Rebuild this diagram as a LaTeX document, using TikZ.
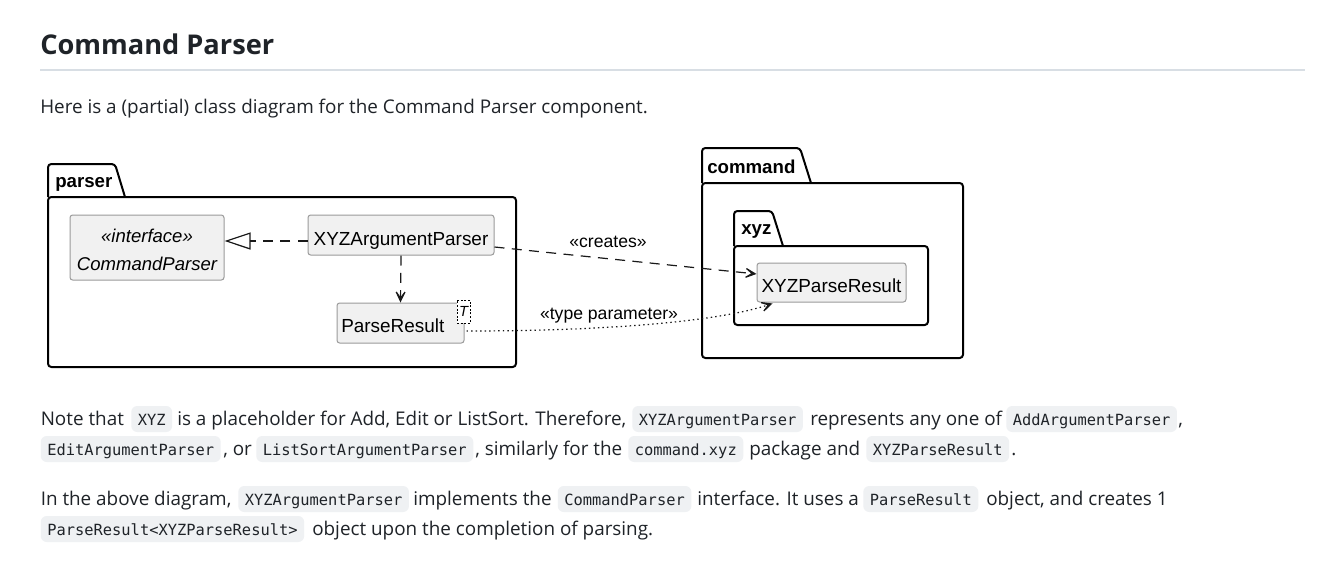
\documentclass[tikz,border=0pt]{standalone}
\usepackage{fontspec}
\setmainfont{Open Sans}
\newfontfamily\diagfont{Liberation Sans}
\newfontfamily\monofont{DejaVu Sans Mono}
\usetikzlibrary{arrows.meta,calc}
\definecolor{fg}{HTML}{1F2328}
\definecolor{codebg}{HTML}{EFF1F3}
\definecolor{rulec}{HTML}{D8DEE4}
\definecolor{clsfill}{HTML}{F1F1F1}
\definecolor{clsdraw}{HTML}{9A9A9A}
\tikzset{
  txt/.style={anchor=base west, inner sep=0pt, text=fg, font=\fontsize{14.15pt}{17pt}\selectfont},
  codebox/.style={anchor=base west, fill=codebg, rounded corners=4.5pt, inner xsep=4.9pt, inner ysep=0pt,
    text height=14.25pt, text depth=5.25pt, text=fg, font=\monofont\fontsize{11.55pt}{14pt}\selectfont},
  pkg/.style={draw=black, line width=1.5pt, rounded corners=2.5pt, line join=round},
  cls/.style={draw=clsdraw, fill=clsfill, line width=0.75pt, rounded corners=2pt, inner sep=0pt},
  clsname/.style={anchor=base, inner sep=0pt, font=\diagfont\fontsize{14.2pt}{17pt}\selectfont},
  clsital/.style={anchor=base, inner sep=0pt, font=\diagfont\itshape\fontsize{13.9pt}{17pt}\selectfont},
  pkglabel/.style={anchor=base west, inner sep=0pt, font=\diagfont\bfseries\fontsize{14pt}{17pt}\selectfont},
  edgelabel/.style={anchor=base, inner sep=0pt, font=\diagfont\fontsize{13.2pt}{16pt}\selectfont},
  rel/.style={line width=0.9pt, draw=black!90},
  umldashed/.style={dash pattern=on 7.5pt off 5.5pt},
  umldotted/.style={dash pattern=on 1.1pt off 2.3pt},
  deptip/.tip={Stealth[length=12.5pt, width=12pt, inset=8.5pt]},
  realtip/.tip={Triangle[open, length=19.5pt, width=12.75pt, fill=white]}
}
\begin{document}
\begin{tikzpicture}[x=0.75pt, y=-0.75pt]
\useasboundingbox[fill=white] (0,0) rectangle (1332,562);

% heading
\node[anchor=base west, inner sep=0pt, text=fg, font=\bfseries\fontsize{20.4pt}{24pt}\selectfont] (title) at (40,54) {Command Parser};
\coordinate (rulel) at (40,70);
\coordinate (ruler) at (1305,70);
\draw[rulec, line width=1.1pt] (rulel) -- (ruler);
\node[txt] (intro) at (40,113) {Here is a (partial) class diagram for the Command Parser component.};

% packages
\draw[pkg] (48,197) -- (48,164) -- (115,164) -- (125,197);
\draw[pkg] (48,197) rectangle (516,367);
\node[pkglabel] (parserlbl) at (55,187) {parser};

\draw[pkg] (702,183) -- (702,148) -- (800,148) -- (811,183);
\draw[pkg] (702,183) rectangle (963,358);
\node[pkglabel] (commandlbl) at (707,173) {command};

\draw[pkg] (734,246) -- (734,211) -- (772,211) -- (783,246);
\draw[pkg] (734,246) rectangle (928,325);
\node[pkglabel] (xyzlbl) at (741,234) {xyz};

% classes
\node[cls, minimum width=115.5pt, minimum height=48.75pt] (cp) at (147,247.5) {};
\node[clsital] (cpst) at (147,242) {«interface»};
\node[clsital] (cpname) at (147,270) {CommandParser};

\node[cls, minimum width=139.5pt, minimum height=30pt] (xap) at (401,235) {};
\node[clsname] (xapname) at (401,245) {XYZArgumentParser};

\node[cls, minimum width=95.25pt, minimum height=30pt] (pr) at (400.5,323) {};
\node[clsname, anchor=base west] (prname) at (341,332) {ParseResult};
\node[draw=black, fill=white, line width=0.75pt, dash pattern=on 1.5pt off 1.2pt, inner sep=0pt,
      minimum width=9.75pt, minimum height=17.25pt, font=\diagfont\itshape\fontsize{11pt}{12pt}\selectfont] (tp) at (463.5,311.5) {T};

\node[cls, minimum width=111.75pt, minimum height=29.25pt] (xpr) at (831.5,282.5) {};
\node[clsname] (xprname) at (831.5,292) {XYZParseResult};

% relations
\draw[rel, umldashed, -{realtip}] ([yshift=-4.5pt]xap.west) -- ([yshift=4.875pt]cp.east);
\draw[rel, umldashed, -{deptip}] (xap.south) -- (pr.north);
\draw[rel, umldashed, -{deptip}] ([yshift=-9pt]xap.east) -- ([yshift=6.4pt]xpr.west);
\node[edgelabel] (createslbl) at (608,247) {«creates»};
\draw[rel, umldotted, -{deptip}] ([xshift=1.5pt, yshift=-6pt]pr.east)
   .. controls +(100pt,0pt) and +(-43.5pt,-14.25pt) .. ([xshift=12pt, yshift=-0.75pt]xpr.south west);
\node[edgelabel] (typelbl) at (609,319) {«type parameter»};

% paragraph 2, line 1
\node[txt] (p2a) at (40.5,425) {Note that};
\node[codebox] (p2b) at (131,425) {XYZ};
\node[txt] (p2c) at (177,425) {is a placeholder for Add, Edit or ListSort. Therefore,};
\node[codebox] (p2d) at (632,425) {XYZArgumentParser};
\node[txt] (p2e) at (810,425) {represents any one of};
\node[codebox] (p2f) at (1006,425) {AddArgumentParser};
\node[txt] (p2g) at (1178,425) {,};
% paragraph 2, line 2
\node[codebox] (p2h) at (40.5,455) {EditArgumentParser};
\node[txt] (p2i) at (223,455) {, or};
\node[codebox] (p2j) at (256,455) {ListSortArgumentParser};
\node[txt] (p2k) at (475,455) {, similarly for the};
\node[codebox] (p2l) at (628,455) {command.xyz};
\node[txt] (p2m) at (749,455) {package and};
\node[codebox] (p2n) at (866,455) {XYZParseResult};
\node[txt] (p2o) at (1011,455) {.};

% paragraph 3, line 1
\node[txt] (p3a) at (40.5,505) {In the above diagram,};
\node[codebox] (p3b) at (238,505) {XYZArgumentParser};
\node[txt] (p3c) at (413,505) {implements the};
\node[codebox] (p3d) at (557.5,505) {CommandParser};
\node[txt] (p3e) at (697,505) {interface. It uses a};
\node[codebox] (p3f) at (863,505) {ParseResult};
\node[txt] (p3g) at (986,505) {object, and creates 1};
% paragraph 3, line 2
\node[codebox] (p3h) at (40.5,535) {ParseResult<XYZParseResult>};
\node[txt] (p3i) at (312,535) {object upon the completion of parsing.};
\end{tikzpicture}
\end{document}
